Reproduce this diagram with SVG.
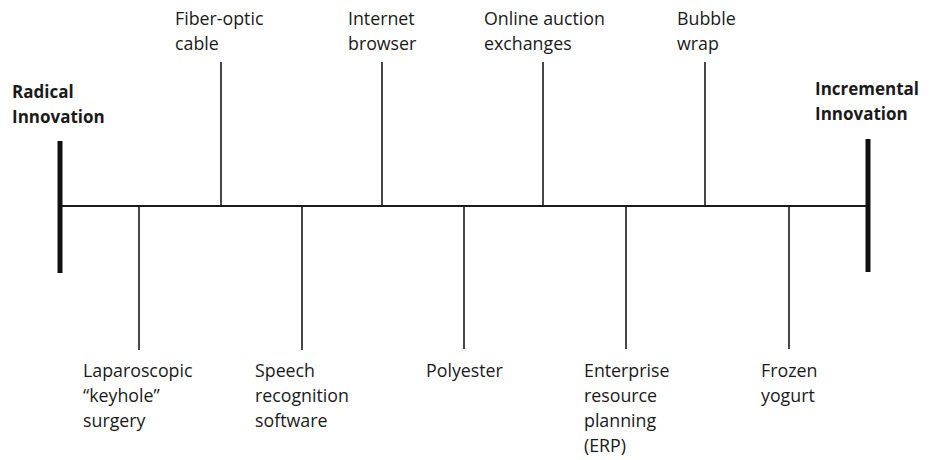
<svg xmlns="http://www.w3.org/2000/svg" width="931" height="460" viewBox="0 0 931 460">
<style>
text{font-family:"Open Sans","Liberation Sans",sans-serif;font-size:17.8px;fill:#1a1a1a}
.b{font-weight:bold;font-size:17px}
.tick{stroke:#1a1a1a;stroke-width:1.6;fill:none}
.axis{stroke:#1a1a1a;stroke-width:2;fill:none}
.bar{stroke:#111;stroke-width:5;fill:none}
</style>
<rect width="931" height="460" fill="#fff"/>
<g id="connectors">
<line class="axis" x1="60" y1="206" x2="868" y2="206"/>
<line class="bar" x1="60" y1="141" x2="60" y2="273"/>
<line class="bar" x1="868" y1="139" x2="868" y2="272"/>
<line class="tick" x1="221" y1="62" x2="221" y2="206"/>
<line class="tick" x1="382" y1="62" x2="382" y2="206"/>
<line class="tick" x1="543" y1="62" x2="543" y2="206"/>
<line class="tick" x1="705" y1="62" x2="705" y2="206"/>
<line class="tick" x1="139" y1="206" x2="139" y2="350"/>
<line class="tick" x1="302" y1="206" x2="302" y2="350"/>
<line class="tick" x1="464" y1="206" x2="464" y2="349"/>
<line class="tick" x1="626" y1="206" x2="626" y2="349"/>
<line class="tick" x1="789" y1="206" x2="789" y2="349"/>
</g>
<g id="radical"><text class="b" x="12" y="98">Radical</text><text class="b" x="12" y="123">Innovation</text></g>
<g id="incremental"><text class="b" x="815" y="95">Incremental</text><text class="b" x="815" y="120">Innovation</text></g>
<g id="fiber"><text x="175" y="25">Fiber-optic</text><text x="175" y="50">cable</text></g>
<g id="browser"><text x="348" y="25">Internet</text><text x="348" y="50">browser</text></g>
<g id="auction"><text x="484" y="25">Online auction</text><text x="484" y="50">exchanges</text></g>
<g id="bubble"><text x="677" y="25">Bubble</text><text x="677" y="50">wrap</text></g>
<g id="laparoscopic"><text x="83" y="377">Laparoscopic</text><text x="83" y="402">“keyhole”</text><text x="83" y="427">surgery</text></g>
<g id="speech"><text x="255" y="377">Speech</text><text x="255" y="402">recognition</text><text x="255" y="427">software</text></g>
<g id="polyester"><text x="426" y="377">Polyester</text></g>
<g id="erp"><text x="584" y="377">Enterprise</text><text x="584" y="402">resource</text><text x="584" y="427">planning</text><text x="584" y="452">(ERP)</text></g>
<g id="yogurt"><text x="761" y="377">Frozen</text><text x="761" y="402">yogurt</text></g>
</svg>
